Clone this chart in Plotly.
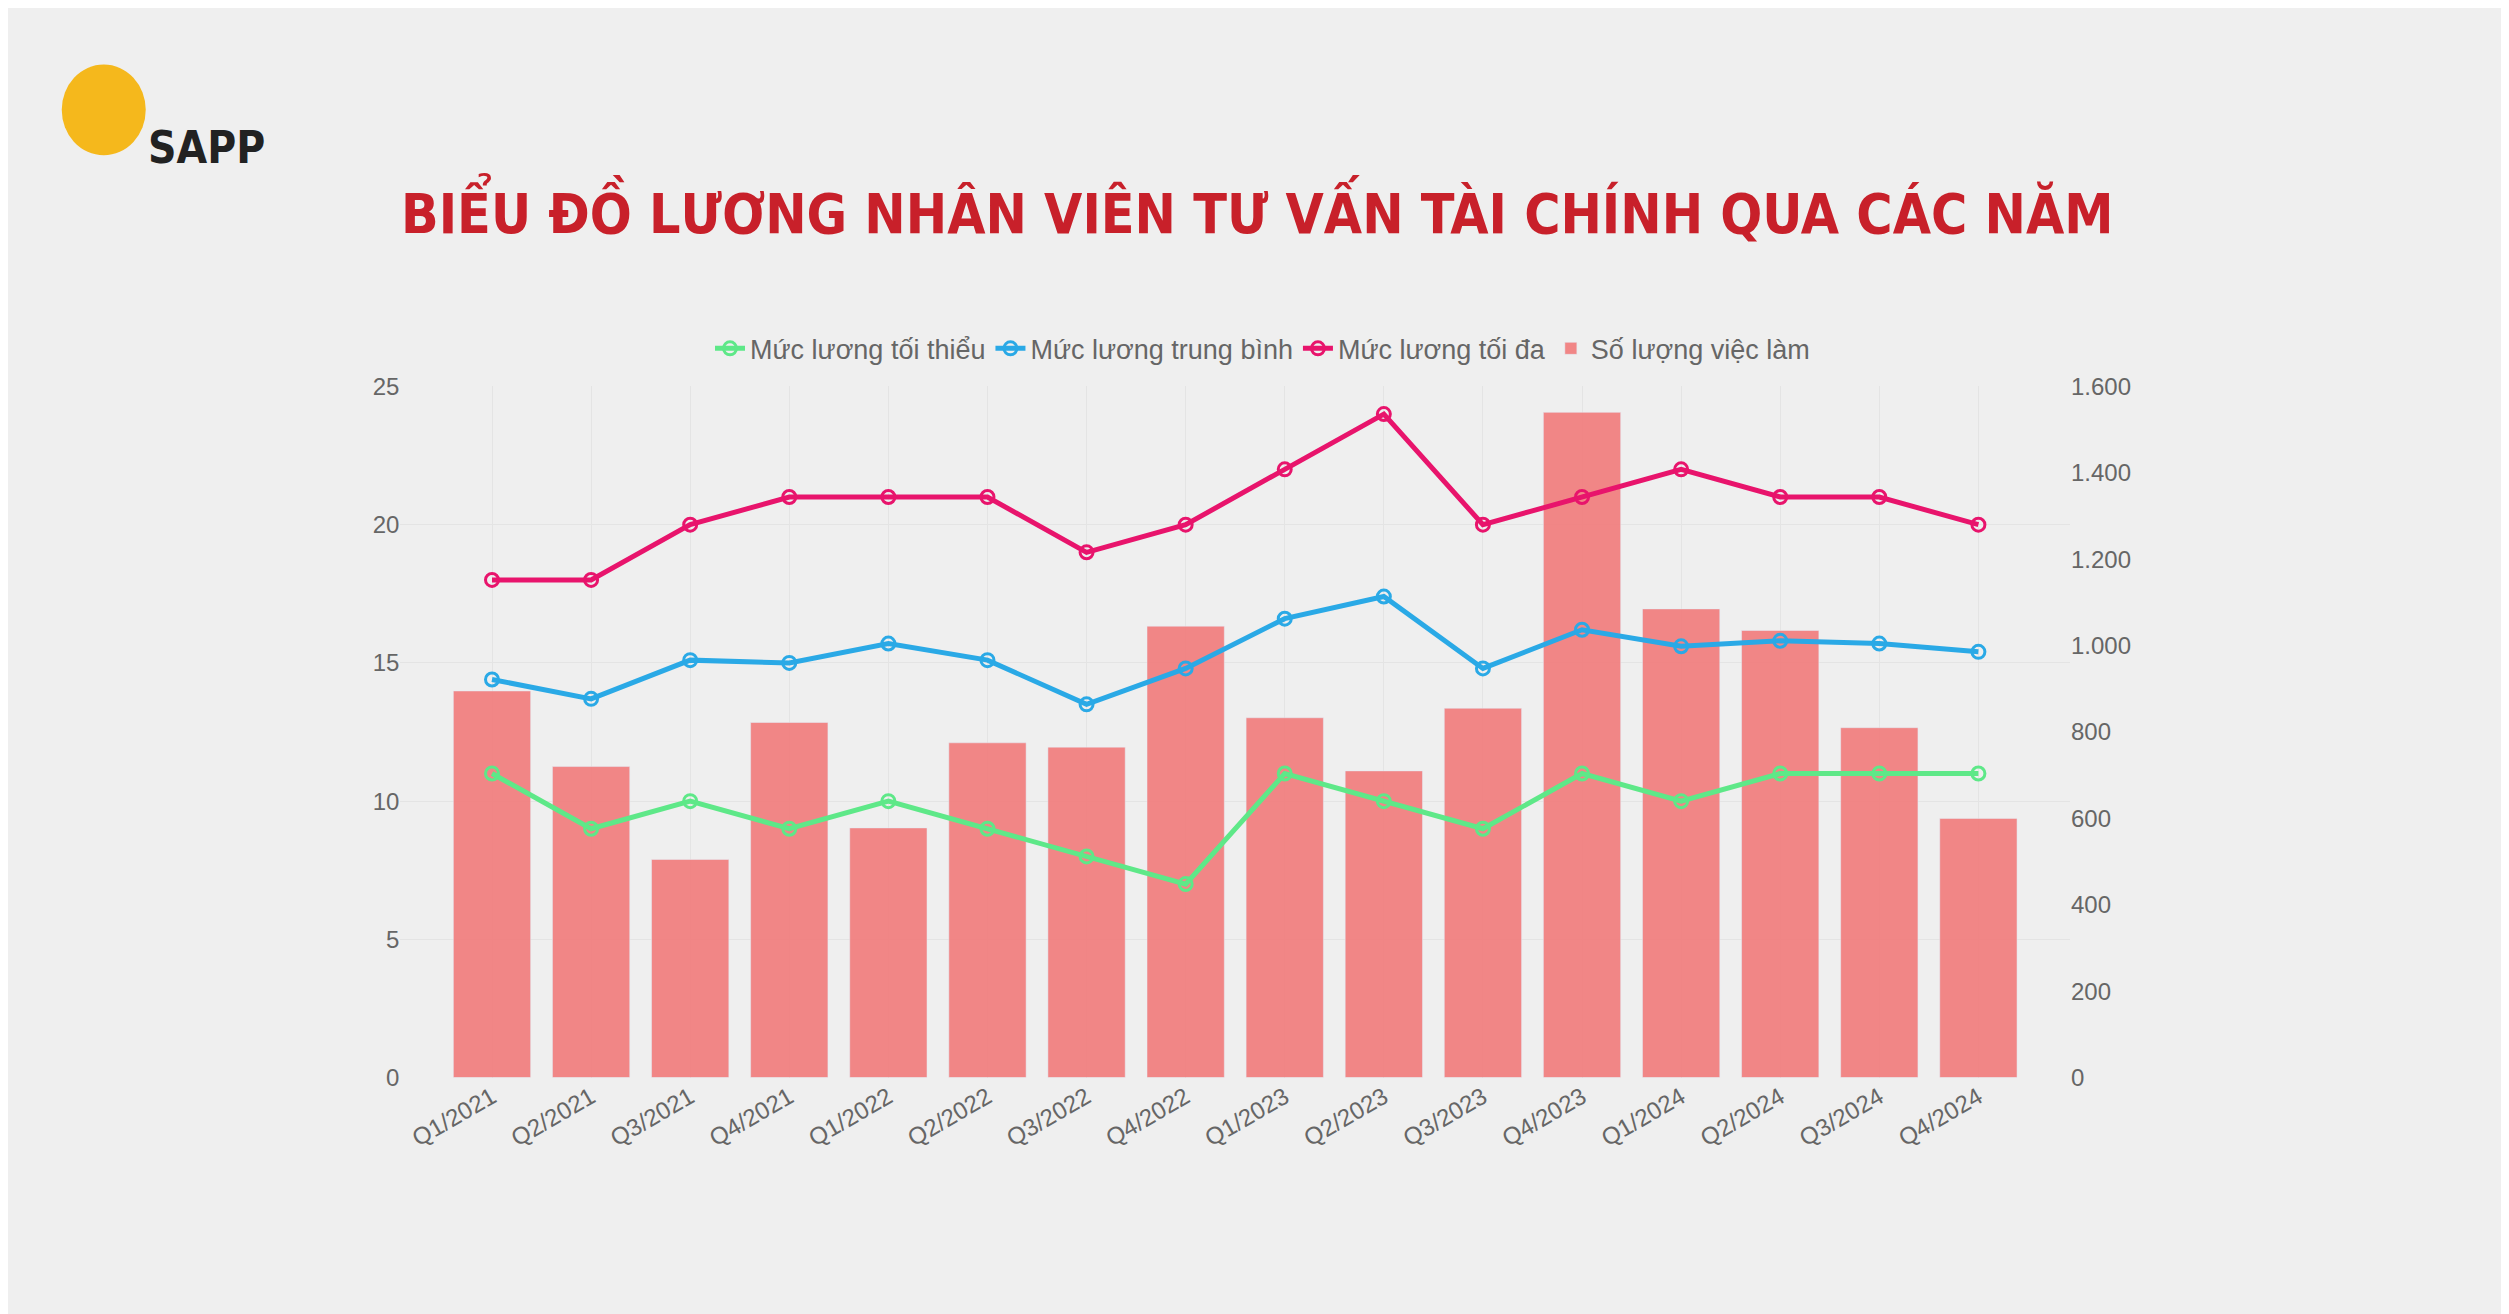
import plotly.graph_objects as go

quarters = ["Q1/2021","Q2/2021","Q3/2021","Q4/2021","Q1/2022","Q2/2022","Q3/2022","Q4/2022",
            "Q1/2023","Q2/2023","Q3/2023","Q4/2023","Q1/2024","Q2/2024","Q3/2024","Q4/2024"]
jobs = [895, 720, 505, 822, 578, 775, 765, 1045, 833, 710, 855, 1540, 1085, 1035, 810, 600]
sal_min = [11, 9, 10, 9, 10, 9, 8, 7, 11, 10, 9, 11, 10, 11, 11, 11]
sal_avg = [14.4, 13.7, 15.1, 15.0, 15.7, 15.1, 13.5, 14.8, 16.6, 17.4, 14.8, 16.2, 15.6, 15.8, 15.7, 15.4]
sal_max = [18, 18, 20, 21, 21, 21, 19, 20, 22, 24, 20, 21, 22, 21, 21, 20]

fig = go.Figure()
fig.add_trace(go.Bar(x=quarters, y=jobs, name="Số lượng việc làm", yaxis="y",
                     marker=dict(color="rgba(240,128,128,0.95)"), legendrank=4))
for name, vals, col, rank in [("Mức lương tối thiểu", sal_min, "#5ee888", 1),
                              ("Mức lương trung bình", sal_avg, "#2aa9e6", 2),
                              ("Mức lương tối đa", sal_max, "#e8146c", 3)]:
    fig.add_trace(go.Scatter(x=quarters, y=vals, name=name, yaxis="y2", mode="lines+markers",
                             line=dict(color=col, width=5),
                             marker=dict(symbol="circle-open", size=13, color=col, line=dict(width=3)),
                             legendrank=rank))

font_axis = dict(family="Arial, Liberation Sans", size=24, color="#666")
fig.update_layout(
    width=2509, height=1314, paper_bgcolor="#efefef", plot_bgcolor="#efefef",
    separators=",.",
    margin=dict(l=300, r=300, t=0, b=0, autoexpand=False),
    bargap=0.22,
    showlegend=True,
    legend=dict(orientation="h", x=0.5, xanchor="center", y=0.722, yanchor="bottom",
                font=dict(family="Arial, Liberation Sans", size=27, color="#666"),
                bgcolor="rgba(0,0,0,0)"),
    xaxis=dict(domain=[0.0484, 0.923], tickangle=-30, tickfont=font_axis, automargin=False,
               showgrid=True, gridcolor="#e4e4e4", showline=False, ticks=""),
    yaxis=dict(side="right", range=[0, 1600], dtick=200, tickfont=font_axis, automargin=False,
               showgrid=False, zeroline=False, tickformat=",d", domain=[0.186, 0.712]),
    yaxis2=dict(side="left", overlaying="y", range=[0, 25], dtick=5, tickfont=font_axis, automargin=False,
                showgrid=True, gridcolor="#e4e4e4", zeroline=False),
)
fig.add_annotation(xref="paper", yref="paper", x=0.497, y=0.876, showarrow=False,
                   text="<b>BIỂU ĐỒ LƯƠNG NHÂN VIÊN TƯ VẤN TÀI CHÍNH QUA CÁC NĂM</b>",
                   font=dict(family="DejaVu Sans Condensed, sans-serif", size=55, color="#c8202a"))
# logo
fig.add_shape(type="circle", xref="paper", yref="paper", x0=-0.129, x1=-0.085, y0=0.957, y1=0.888,
              fillcolor="#f5b81c", line=dict(width=0))
fig.add_annotation(xref="paper", yref="paper", x=-0.085, y=0.915, xanchor="left", showarrow=False,
                   text="<b>SAPP</b>", font=dict(family="DejaVu Sans Condensed, Arial", size=44, color="#222"))
fig.write_html("out.html")
